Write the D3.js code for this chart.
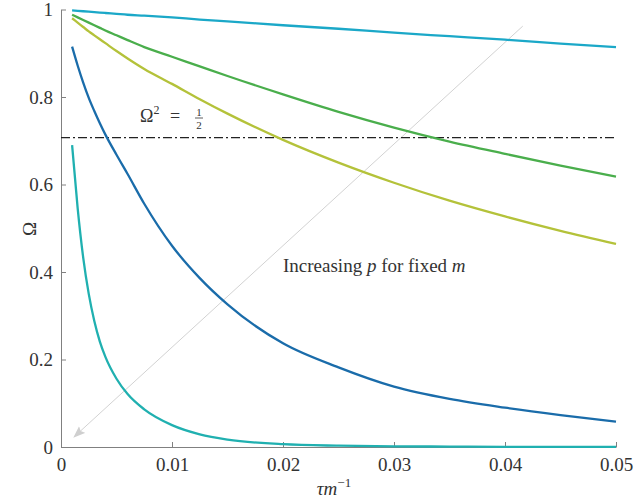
<!DOCTYPE html>
<html>
<head>
<meta charset="utf-8">
<script src="https://cdn.jsdelivr.net/npm/d3@7"></script>
<style>
  body { margin: 0; background: #fff; }
  svg text { font-family: "Liberation Serif", "DejaVu Serif", serif; fill: #333; }
</style>
</head>
<body>
<svg id="chart" width="634" height="499"></svg>
<script>
// tau m^-1 sample points
var tau = [0.001, 0.0015, 0.002, 0.0025, 0.003, 0.0035, 0.004, 0.005, 0.006, 0.0075,
           0.01, 0.0125, 0.015, 0.02, 0.025, 0.03, 0.035, 0.04, 0.045, 0.05];

var omegaCyan   = [0.998, 0.997, 0.996, 0.995, 0.994, 0.993, 0.992, 0.990, 0.988, 0.986,
                   0.982, 0.977, 0.973, 0.964, 0.956, 0.947, 0.939, 0.931, 0.922, 0.914];
var omegaGreen  = [0.988, 0.982, 0.976, 0.970, 0.964, 0.958, 0.952, 0.941, 0.930, 0.914,
                   0.892, 0.870, 0.848, 0.806, 0.766, 0.730, 0.698, 0.670, 0.643, 0.618];
var omegaYellow = [0.980, 0.970, 0.960, 0.950, 0.941, 0.932, 0.923, 0.905, 0.888, 0.864,
                   0.830, 0.795, 0.762, 0.702, 0.650, 0.604, 0.563, 0.527, 0.494, 0.464];
var omegaBlue   = [0.915, 0.872, 0.833, 0.798, 0.768, 0.740, 0.714, 0.668, 0.624, 0.556,
                   0.460, 0.386, 0.326, 0.237, 0.182, 0.138, 0.110, 0.090, 0.073, 0.058];
var omegaTeal   = [0.690, 0.546, 0.433, 0.350, 0.288, 0.241, 0.206, 0.156, 0.121, 0.086,
                   0.050, 0.029, 0.017, 0.0064, 0.003, 0.0015, 0.001, 0.0005, 0.0003, 0.0002];

var seriesNames  = ["cyan", "green", "yellow", "blue", "teal"];
var seriesValues = [omegaCyan, omegaGreen, omegaYellow, omegaBlue, omegaTeal];
var seriesColors = ["#1ba8c8", "#4aae4c", "#b4c23a", "#1a6caa", "#20b0b0"];

var xTicks = [0, 0.01, 0.02, 0.03, 0.04, 0.05];
var yTicks = [0, 0.2, 0.4, 0.6, 0.8, 1];

var halfLevel = Math.SQRT1_2;            // Omega^2 = 1/2
var arrowFrom = [0.0416, 0.962];
var arrowTo   = [0.00117, 0.0229];

var svg = d3.select("#chart");

var x = d3.scaleLinear().domain([0, 0.05]).range([61, 616]);
var y = d3.scaleLinear().domain([0, 1]).range([447, 9.5]);

// axes (left + bottom only, ticks pointing inward)
var xAxis = d3.axisBottom(x).tickValues(xTicks).tickFormat(d3.format("~g"))
    .tickSizeInner(-5).tickSizeOuter(0).tickPadding(11);
var yAxis = d3.axisLeft(y).tickValues(yTicks).tickFormat(d3.format("~g"))
    .tickSizeInner(-5).tickSizeOuter(0).tickPadding(8);

var gx = svg.append("g").attr("transform", "translate(0," + y(0) + ")").call(xAxis);
var gy = svg.append("g").attr("transform", "translate(" + x(0) + ",0)").call(yAxis);

[gx, gy].forEach(function(g) {
    g.attr("font-family", null);
    g.select(".domain").attr("stroke", "#808080");
    g.selectAll(".tick line").attr("stroke", "#808080");
    g.selectAll(".tick text").attr("font-size", 19).attr("fill", "#333");
});

// arrow "Increasing p"
svg.append("defs").append("marker")
    .attr("id", "head")
    .attr("viewBox", "0 -5 12 10")
    .attr("refX", 11).attr("refY", 0)
    .attr("markerWidth", 12).attr("markerHeight", 10)
    .attr("markerUnits", "userSpaceOnUse")
    .attr("orient", "auto")
    .append("path")
    .attr("d", "M0,-4.5L12,0L0,4.5L2,0Z")
    .attr("fill", "#cfcfcf");

svg.append("line")
    .attr("x1", x(arrowFrom[0])).attr("y1", y(arrowFrom[1]))
    .attr("x2", x(arrowTo[0])).attr("y2", y(arrowTo[1]))
    .attr("stroke", "#d2d2d2")
    .attr("stroke-width", 1)
    .attr("marker-end", "url(#head)");

// dash-dot reference line
svg.append("line")
    .attr("x1", x(0)).attr("x2", x(0.05))
    .attr("y1", y(halfLevel)).attr("y2", y(halfLevel))
    .attr("stroke", "#222")
    .attr("stroke-width", 1.3)
    .attr("stroke-dasharray", "9,3,2,3");

// curves
var line = d3.line()
    .x(function(d) { return x(d[0]); })
    .y(function(d) { return y(d[1]); })
    .curve(d3.curveMonotoneX);

seriesValues.forEach(function(vals, i) {
    svg.append("path")
        .datum(tau.map(function(t, j) { return [t, vals[j]]; }))
        .attr("class", "curve " + seriesNames[i])
        .attr("d", line)
        .attr("fill", "none")
        .attr("stroke", seriesColors[i])
        .attr("stroke-width", 2.3);
});

// Omega^2 = 1/2 label
var lbl = svg.append("g").attr("transform", "translate(140,122)");
lbl.append("text").attr("font-size", 18)
    .text("Ω").append("tspan").attr("font-size", 12).attr("dy", -8).text("2");
lbl.append("text").attr("x", 30).attr("font-size", 18).text("=");
lbl.append("text").attr("x", 59).attr("y", -6).attr("font-size", 11)
    .attr("text-anchor", "middle").text("1");
lbl.append("line").attr("x1", 55).attr("x2", 63).attr("y1", -4).attr("y2", -4)
    .attr("stroke", "#333").attr("stroke-width", 0.8);
lbl.append("text").attr("x", 59).attr("y", 7).attr("font-size", 11)
    .attr("text-anchor", "middle").text("2");

// annotation text
var ann = svg.append("text").attr("x", 283).attr("y", 272).attr("font-size", 19);
ann.append("tspan").text("Increasing ");
ann.append("tspan").attr("font-style", "italic").text("p");
ann.append("tspan").text(" for fixed ");
ann.append("tspan").attr("font-style", "italic").text("m");

// axis labels
var xl = svg.append("text").attr("x", 334).attr("y", 495)
    .attr("text-anchor", "middle").attr("font-size", 19);
xl.append("tspan").attr("font-style", "italic").text("τm");
xl.append("tspan").attr("font-size", 13).attr("dy", -8).text("−1");

svg.append("text")
    .attr("transform", "translate(36,229) rotate(-90)")
    .attr("text-anchor", "middle")
    .attr("font-size", 19)
    .text("Ω");
</script>
</body>
</html>
